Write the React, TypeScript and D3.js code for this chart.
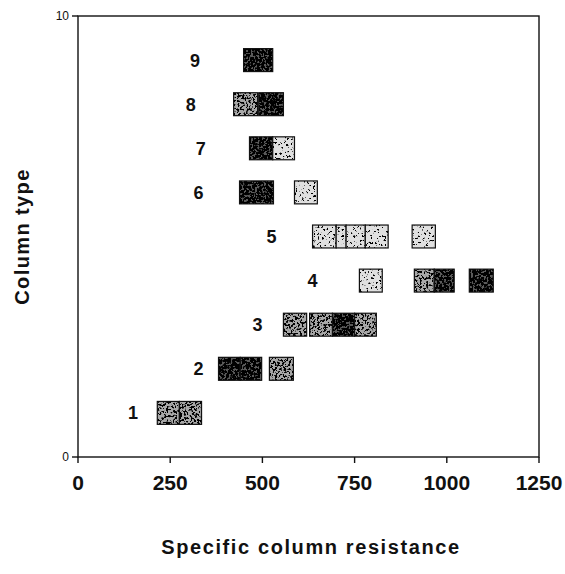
import React from "react";
import * as d3 from "d3";

// Column types (rows) and the resistance ranges of each box in a row
const columnTypes = [1, 2, 3, 4, 5, 6, 7, 8, 9];
const boxStart = [
  [215, 275],
  [381, 440, 519],
  [557, 628, 690, 750],
  [763, 912, 966, 1061],
  [636, 700, 727, 779, 906],
  [438, 587],
  [465, 528],
  [422, 490],
  [449],
];
const boxEnd = [
  [275, 335],
  [440, 498, 584],
  [620, 690, 750, 809],
  [825, 966, 1020, 1126],
  [700, 727, 779, 841, 969],
  [530, 649],
  [528, 587],
  [487, 557],
  [528],
];
// where each row's number label sits (resistance units)
const labelAt = [149, 327, 487, 636, 525, 327, 333, 306, 317];
const xTicks = [0, 250, 500, 750, 1000, 1250];
const yTicks = [0, 10];

// shading of each box: 0 = light, 1 = medium, 2 = dark
const tone = [
  [1, 1],
  [2, 2, 1],
  [1, 1, 2, 1],
  [0, 1, 2, 2],
  [0, 0, 0, 0, 0],
  [2, 0],
  [2, 0],
  [1, 2],
  [2],
];

export default function App() {
  const W = 565;
  const H = 574;
  const x = d3.scaleLinear().domain([0, 1250]).range([78, 539]);
  const y = d3.scaleLinear().domain([0, 10]).range([457, 16]);
  const half = 0.26;
  const font = "'Liberation Sans', Arial, Helvetica, sans-serif";
  const fills = ["#e0e0e0", "#a8a8a8", "#5a5a5a"];
  const filters = ["spkL", "spkM", "spkD"];

  const boxes: { r: number; a: number; b: number; t: number; k: string }[] = [];
  columnTypes.forEach((ct, i) => {
    boxStart[i].forEach((a, j) => {
      boxes.push({ r: ct, a, b: boxEnd[i][j], t: tone[i][j], k: `${i}-${j}` });
    });
  });

  const mkFilter = (id: string, off: number, seed: number) => (
    <filter id={id} x="0" y="0" width="100%" height="100%" key={id}>
      <feTurbulence type="fractalNoise" baseFrequency="0.45" numOctaves="2" seed={seed} result="noise" />
      <feColorMatrix
        in="noise"
        type="matrix"
        values={`0 0 0 0 0  0 0 0 0 0  0 0 0 0 0  0 0 0 -14 ${off}`}
        result="spots"
      />
      <feComposite in="spots" in2="SourceGraphic" operator="in" />
    </filter>
  );

  return (
    <svg
      width={W}
      height={H}
      style={{ position: "absolute", left: 0, top: 0, background: "#fff" }}
      fontFamily={font}
    >
      <defs>
        {mkFilter("spkL", 5.4, 2)}
        {mkFilter("spkM", 6.8, 5)}
        {mkFilter("spkD", 8.4, 9)}
      </defs>
      <rect x={0} y={0} width={W} height={H} fill="#fff" />

      {/* frame */}
      <rect
        x={x(0)}
        y={y(10)}
        width={x(1250) - x(0)}
        height={y(0) - y(10)}
        fill="none"
        stroke="#111"
        strokeWidth={1.4}
      />

      {/* boxes */}
      {boxes.map((d) => (
        <g key={d.k}>
          <rect
            x={x(d.a)}
            y={y(d.r + half)}
            width={x(d.b) - x(d.a)}
            height={y(d.r - half) - y(d.r + half)}
            fill={fills[d.t]}
          />
          <rect
            x={x(d.a)}
            y={y(d.r + half)}
            width={x(d.b) - x(d.a)}
            height={y(d.r - half) - y(d.r + half)}
            fill="#fff"
            filter={`url(#${filters[d.t]})`}
          />
          <rect
            x={x(d.a)}
            y={y(d.r + half)}
            width={x(d.b) - x(d.a)}
            height={y(d.r - half) - y(d.r + half)}
            fill="none"
            stroke="#111"
            strokeWidth={1.2}
          />
        </g>
      ))}

      {/* row labels */}
      {columnTypes.map((ct, i) => (
        <text
          key={`l${ct}`}
          x={x(labelAt[i])}
          y={y(ct)}
          dy="0.36em"
          textAnchor="middle"
          fontWeight="bold"
          fontSize={18}
          fill="#111"
        >
          {ct}
        </text>
      ))}

      {/* x ticks */}
      {xTicks.map((t) => (
        <g key={`x${t}`}>
          <line x1={x(t)} x2={x(t)} y1={y(0)} y2={y(0) + 6} stroke="#111" strokeWidth={1.4} />
          <text
            x={x(t)}
            y={y(0) + 33}
            textAnchor="middle"
            fontWeight="bold"
            fontSize={21}
            fill="#111"
          >
            {t}
          </text>
        </g>
      ))}

      {/* y ticks */}
      {yTicks.map((t) => (
        <g key={`y${t}`}>
          <line x1={x(0) - 6} x2={x(0)} y1={y(t)} y2={y(t)} stroke="#111" strokeWidth={1.4} />
          <text
            x={x(0) - 9}
            y={y(t)}
            dy="0.35em"
            textAnchor="end"
            fontSize={12}
            fill="#111"
          >
            {t}
          </text>
        </g>
      ))}

      {/* axis titles */}
      <text
        x={311}
        y={554}
        textAnchor="middle"
        fontWeight="bold"
        fontSize={20}
        letterSpacing={1.6}
        fill="#111"
      >
        Specific column resistance
      </text>
      <text
        transform={`translate(29, ${(y(0) + y(10)) / 2}) rotate(-90)`}
        textAnchor="middle"
        fontWeight="bold"
        fontSize={20}
        letterSpacing={1.4}
        fill="#111"
      >
        Column type
      </text>
    </svg>
  );
}
